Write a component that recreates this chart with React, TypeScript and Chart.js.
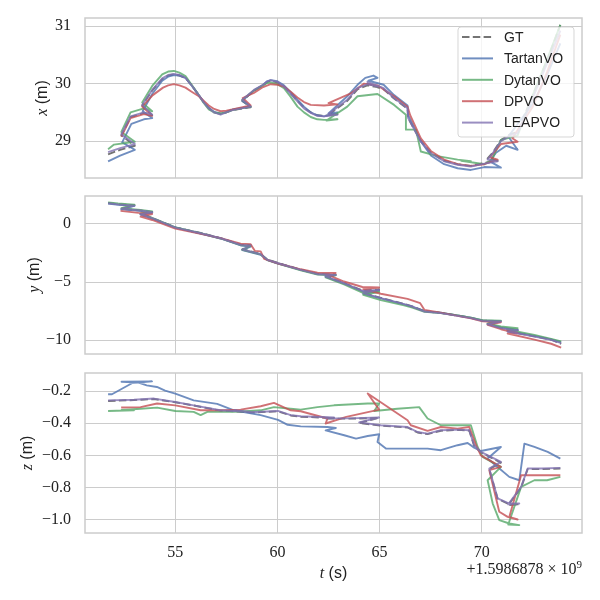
import { useEffect, useRef } from "react";
import { Chart, registerables } from "chart.js";

Chart.register(...registerables);

type Pt = [number, number];

const SERIF = '"Liberation Serif", "DejaVu Serif", serif';
const SANS = '"Liberation Sans", "DejaVu Sans", sans-serif';
const GRID = "#cccccc";
const INK = "#222222";

const seriesNames = ["GT", "TartanVO", "DytanVO", "DPVO", "LEAPVO"];
const seriesColors = [
  "rgba(70,70,70,0.75)",
  "rgba(76,114,176,0.8)",
  "rgba(85,168,104,0.8)",
  "rgba(196,78,82,0.8)",
  "rgba(129,114,178,0.8)",
];

const tTicks = [55, 60, 65, 70];
const T_MIN = 50.58;
const T_MAX = 74.91;
const xTicks = [29, 30, 31];
const yTicks = [-10, -5, 0];
const zTicks = [-1.0, -0.8, -0.6, -0.4, -0.2];

// ---- x (m) ----
const gtX: Pt[] = [[51.71,28.77],[52.3,28.85],[53.02,28.92],[52.36,29.1],[52.81,29.42],[53.46,29.49],[53.87,29.45],[53.38,29.62],[53.87,29.88],[54.36,30.08],[54.65,30.14],[54.93,30.16],[55.2,30.14],[55.5,30.1],[55.8,29.97],[56.15,29.8],[56.4,29.67],[56.64,29.57],[56.9,29.5],[57.22,29.47],[57.5,29.5],[57.79,29.54],[58.69,29.59],[58.28,29.7],[58.85,29.88],[59.3,29.97],[59.5,30.03],[59.67,30.05],[60.0,30.02],[60.32,29.95],[60.65,29.83],[60.98,29.7],[61.3,29.58],[61.63,29.5],[61.95,29.45],[62.28,29.44],[62.94,29.47],[62.5,29.46],[63.42,29.7],[63.92,29.9],[64.4,29.97],[64.9,29.94],[64.4,30.0],[65.2,29.9],[65.71,29.74],[66.37,29.56],[66.4,29.4],[67.02,29.0],[67.51,28.8],[68.16,28.66],[68.82,28.6],[69.47,28.57],[70.13,28.62],[70.78,28.66],[70.29,28.7],[70.54,28.8],[70.94,29.02],[71.4,29.12],[71.76,29.16],[72.5,29.8],[73.2,30.4],[73.85,31.02]];
const tartanX: Pt[] = [[51.71,28.65],[52.3,28.75],[53.02,28.85],[52.4,28.98],[52.85,29.3],[53.46,29.38],[53.87,29.4],[53.4,29.52],[53.87,29.82],[54.36,30.05],[54.65,30.12],[54.93,30.15],[55.2,30.14],[55.5,30.1],[55.8,29.97],[56.15,29.8],[56.4,29.68],[56.64,29.58],[56.9,29.51],[57.22,29.48],[57.5,29.51],[57.79,29.55],[58.69,29.6],[58.28,29.7],[58.85,29.88],[59.3,29.98],[59.5,30.04],[59.67,30.06],[60.0,30.04],[60.32,29.97],[60.65,29.85],[60.98,29.72],[61.3,29.6],[61.63,29.5],[61.95,29.45],[62.28,29.43],[62.94,29.5],[62.5,29.48],[63.42,29.78],[63.92,29.98],[64.3,30.1],[64.7,30.14],[64.9,30.1],[64.45,30.05],[65.2,29.98],[65.71,29.8],[66.37,29.62],[66.4,29.45],[67.02,29.0],[67.51,28.75],[68.16,28.6],[68.82,28.53],[69.47,28.5],[70.13,28.55],[70.94,28.54],[70.4,28.65],[70.7,28.8],[71.2,28.92],[71.76,28.85],[71.3,29.08],[72.5,29.65],[73.2,30.15],[73.85,30.7]];
const dytanX: Pt[] = [[51.71,28.86],[52.0,28.94],[53.02,28.99],[52.36,29.16],[52.81,29.5],[53.46,29.57],[53.87,29.52],[53.38,29.67],[53.87,29.96],[54.36,30.16],[54.65,30.21],[54.93,30.22],[55.2,30.19],[55.5,30.13],[55.8,29.98],[56.15,29.8],[56.4,29.66],[56.64,29.55],[56.9,29.5],[57.22,29.48],[57.5,29.5],[57.79,29.54],[58.69,29.6],[58.28,29.72],[58.85,29.88],[59.3,29.97],[59.5,30.01],[59.67,30.02],[60.0,29.99],[60.32,29.92],[60.65,29.77],[60.98,29.6],[61.3,29.5],[61.63,29.42],[61.95,29.38],[62.28,29.37],[62.94,29.38],[62.4,29.36],[63.42,29.6],[63.92,29.78],[64.9,29.82],[65.71,29.63],[66.29,29.46],[66.29,29.2],[66.78,29.2],[67.02,28.82],[67.84,28.74],[68.82,28.68],[69.47,28.65],[69.0,28.66],[70.13,28.6],[70.5,28.68],[70.94,29.02],[71.76,29.1],[72.5,29.8],[73.2,30.42],[73.85,31.02]];
const dpvoX: Pt[] = [[52.36,29.08],[52.81,29.4],[53.46,29.47],[53.87,29.44],[53.38,29.6],[53.9,29.8],[54.4,29.93],[54.65,29.97],[54.93,29.99],[55.2,29.97],[55.5,29.93],[55.8,29.86],[56.15,29.78],[56.4,29.7],[56.64,29.62],[56.9,29.56],[57.22,29.52],[57.5,29.53],[57.79,29.55],[58.69,29.62],[58.3,29.75],[58.85,29.84],[59.3,29.94],[59.67,29.99],[60.0,29.98],[60.32,29.95],[60.65,29.86],[60.98,29.76],[61.3,29.68],[61.63,29.63],[62.28,29.62],[62.94,29.64],[62.5,29.66],[63.59,29.83],[64.24,30.0],[64.9,29.97],[65.71,29.78],[66.37,29.6],[66.5,29.45],[67.02,29.05],[67.51,28.83],[68.16,28.68],[68.82,28.6],[69.47,28.57],[70.13,28.6],[70.78,28.68],[70.4,28.72],[70.94,28.95],[71.76,28.99],[71.5,29.05],[72.5,29.6],[73.2,30.2],[73.85,30.85]];
const leapX: Pt[] = [[51.71,28.81],[52.3,28.88],[53.02,28.95],[52.36,29.12],[52.81,29.43],[53.46,29.5],[53.87,29.46],[53.38,29.63],[53.87,29.89],[54.36,30.09],[54.65,30.15],[54.93,30.17],[55.2,30.15],[55.5,30.1],[55.8,29.97],[56.15,29.8],[56.4,29.67],[56.64,29.57],[56.9,29.5],[57.22,29.46],[57.5,29.5],[57.79,29.54],[58.69,29.6],[58.28,29.72],[58.85,29.89],[59.3,29.98],[59.5,30.04],[59.67,30.06],[60.0,30.03],[60.32,29.95],[60.65,29.82],[60.98,29.69],[61.3,29.57],[61.63,29.49],[61.95,29.44],[62.28,29.43],[62.94,29.46],[62.5,29.47],[63.42,29.72],[63.92,29.92],[64.4,29.99],[64.9,29.95],[64.4,30.03],[65.2,29.92],[65.71,29.75],[66.37,29.57],[66.4,29.4],[67.02,28.99],[67.51,28.79],[68.16,28.65],[68.82,28.59],[69.47,28.56],[70.13,28.61],[70.78,28.65],[70.29,28.68],[70.54,28.79],[70.94,29.0],[71.4,29.1],[71.76,29.14],[72.5,29.75],[73.2,30.35],[73.85,30.92]];

// ---- y (m) ----
const gtY: Pt[] = [[51.71,1.8],[52.2,1.7],[53.0,1.6],[52.36,1.3],[53.3,1.15],[53.87,1.02],[53.3,0.85],[53.87,0.5],[55.0,-0.3],[56.24,-0.78],[57.22,-1.22],[58.2,-1.78],[58.69,-1.83],[58.28,-2.18],[59.18,-2.58],[59.51,-3.06],[60.03,-3.36],[61.14,-3.93],[61.96,-4.3],[62.85,-4.36],[62.36,-4.5],[63.26,-5.08],[64.16,-5.72],[64.98,-5.64],[64.2,-5.92],[65.06,-6.35],[66.2,-6.88],[66.6,-7.08],[67.2,-7.5],[68.0,-7.65],[68.82,-7.88],[69.47,-8.08],[70.04,-8.31],[70.94,-8.37],[70.29,-8.6],[70.94,-8.94],[71.76,-9.14],[71.27,-9.23],[72.58,-9.66],[73.4,-9.95],[73.89,-10.3]];
const tartanY: Pt[] = [[51.71,1.75],[52.2,1.65],[53.0,1.55],[52.36,1.25],[53.3,1.12],[53.87,0.98],[53.3,0.8],[53.87,0.45],[55.0,-0.3],[56.24,-0.82],[57.22,-1.25],[58.2,-1.85],[58.69,-1.95],[58.28,-2.25],[59.18,-2.65],[59.51,-3.1],[60.03,-3.4],[61.14,-3.95],[61.96,-4.3],[62.85,-4.4],[62.36,-4.55],[63.26,-5.12],[64.16,-5.8],[64.98,-5.72],[64.2,-6.0],[65.06,-6.4],[66.2,-6.92],[66.6,-7.12],[67.2,-7.5],[68.0,-7.64],[68.82,-7.86],[69.47,-8.06],[70.04,-8.3],[70.94,-8.36],[70.29,-8.6],[70.94,-8.9],[71.76,-9.1],[71.27,-9.2],[72.58,-9.62],[73.4,-9.92],[73.89,-10.17]];
const dytanY: Pt[] = [[51.71,1.85],[52.2,1.75],[53.0,1.65],[52.36,1.35],[53.3,1.2],[53.87,1.08],[53.3,0.9],[53.87,0.52],[55.0,-0.3],[56.24,-0.8],[57.22,-1.25],[58.2,-1.82],[58.69,-1.88],[58.28,-2.22],[59.18,-2.62],[59.51,-3.1],[60.03,-3.4],[61.14,-3.98],[61.96,-4.35],[62.85,-4.42],[62.36,-4.6],[63.26,-5.2],[64.16,-5.9],[64.98,-5.85],[64.2,-6.1],[65.06,-6.55],[66.2,-7.0],[66.6,-7.2],[67.2,-7.55],[68.0,-7.66],[68.82,-7.86],[69.47,-8.05],[70.04,-8.28],[70.94,-8.32],[70.29,-8.55],[70.94,-8.82],[71.76,-8.96],[71.27,-9.1],[72.58,-9.55],[73.4,-9.88],[73.89,-10.1]];
const dpvoY: Pt[] = [[52.32,1.12],[53.2,0.95],[53.87,0.85],[53.3,0.62],[53.87,0.34],[55.0,-0.4],[56.24,-0.85],[57.22,-1.22],[58.2,-1.7],[58.69,-1.74],[58.9,-2.32],[59.18,-2.36],[59.35,-3.0],[60.03,-3.4],[61.14,-3.9],[61.96,-4.2],[62.85,-4.22],[62.36,-4.3],[63.26,-4.95],[64.16,-5.42],[64.98,-5.47],[64.2,-5.6],[65.06,-6.0],[66.37,-6.44],[66.99,-6.81],[67.2,-7.39],[68.0,-7.62],[68.82,-7.9],[69.47,-8.12],[70.04,-8.38],[70.94,-8.45],[70.29,-8.68],[70.94,-9.05],[71.76,-9.4],[71.27,-9.42],[72.58,-9.95],[73.4,-10.3],[73.89,-10.63]];
const leapY: Pt[] = [[51.71,1.78],[52.2,1.68],[53.0,1.57],[52.36,1.29],[53.3,1.15],[53.87,1.0],[53.3,0.83],[53.87,0.49],[55.0,-0.32],[56.24,-0.8],[57.22,-1.23],[58.2,-1.8],[58.69,-1.85],[58.28,-2.2],[59.18,-2.6],[59.51,-3.09],[60.03,-3.38],[61.14,-3.95],[61.96,-4.32],[62.85,-4.38],[62.36,-4.52],[63.26,-5.1],[64.16,-5.76],[64.98,-5.67],[64.2,-5.95],[65.06,-6.38],[66.2,-6.9],[66.6,-7.1],[67.2,-7.53],[68.0,-7.67],[68.82,-7.9],[69.47,-8.1],[70.04,-8.33],[70.94,-8.39],[70.29,-8.62],[70.94,-8.96],[71.76,-9.16],[71.27,-9.25],[72.58,-9.68],[73.4,-9.97],[73.89,-10.25]];

// ---- z (m) ----
const gtZ: Pt[] = [[51.71,-0.262],[52.98,-0.256],[53.96,-0.25],[55.0,-0.27],[55.9,-0.29],[57.2,-0.322],[57.87,-0.326],[58.69,-0.333],[57.9,-0.322],[58.69,-0.334],[60.03,-0.326],[60.65,-0.352],[61.14,-0.36],[62.77,-0.368],[62.36,-0.372],[63.5,-0.372],[64.98,-0.368],[64.0,-0.398],[65.06,-0.416],[66.37,-0.427],[66.86,-0.458],[67.35,-0.468],[68.0,-0.447],[68.82,-0.442],[69.39,-0.446],[69.63,-0.54],[69.96,-0.582],[70.94,-0.645],[70.37,-0.686],[70.78,-0.87],[71.35,-0.905],[71.84,-0.905],[71.3,-0.91],[71.93,-0.8],[72.25,-0.686],[72.9,-0.686],[73.85,-0.682]];
const tartanZ: Pt[] = [[51.71,-0.22],[51.9,-0.22],[52.9,-0.15],[53.86,-0.14],[52.37,-0.142],[53.2,-0.148],[53.6,-0.165],[54.1,-0.175],[54.5,-0.198],[55.0,-0.216],[55.9,-0.258],[57.05,-0.28],[57.87,-0.32],[59.18,-0.35],[60.03,-0.38],[60.5,-0.41],[61.14,-0.42],[62.45,-0.424],[62.86,-0.43],[62.36,-0.445],[63.27,-0.475],[63.85,-0.496],[64.42,-0.48],[64.98,-0.469],[64.9,-0.517],[65.31,-0.558],[66.37,-0.558],[67.35,-0.558],[68.0,-0.568],[68.82,-0.537],[69.31,-0.523],[69.63,-0.552],[69.96,-0.573],[70.94,-0.548],[70.29,-0.62],[70.78,-0.672],[71.35,-0.734],[71.84,-0.755],[72.09,-0.527],[72.58,-0.548],[73.23,-0.579],[73.85,-0.62]];
const dytanZ: Pt[] = [[51.71,-0.324],[52.98,-0.32],[52.37,-0.318],[53.3,-0.31],[54.11,-0.303],[55.0,-0.324],[55.9,-0.33],[56.24,-0.35],[56.57,-0.33],[57.87,-0.33],[59.18,-0.32],[59.83,-0.3],[60.65,-0.31],[61.14,-0.316],[61.96,-0.3],[62.77,-0.289],[64.42,-0.278],[64.98,-0.278],[64.74,-0.324],[65.87,-0.31],[66.94,-0.3],[67.35,-0.371],[68.0,-0.413],[68.82,-0.413],[69.47,-0.413],[69.8,-0.548],[70.04,-0.61],[70.94,-0.672],[70.29,-0.755],[70.54,-0.9],[70.86,-1.003],[71.35,-1.024],[71.84,-1.034],[71.3,-1.03],[71.93,-0.796],[72.58,-0.755],[73.2,-0.755],[73.85,-0.734]];
const dpvoZ: Pt[] = [[52.35,-0.303],[53.3,-0.3],[54.11,-0.278],[55.0,-0.289],[56.24,-0.32],[57.22,-0.32],[58.2,-0.316],[59.18,-0.295],[59.83,-0.274],[60.65,-0.32],[61.14,-0.326],[62.45,-0.371],[62.36,-0.402],[63.37,-0.361],[64.98,-0.316],[64.42,-0.215],[66.37,-0.382],[66.53,-0.413],[67.35,-0.448],[68.0,-0.424],[68.82,-0.434],[69.39,-0.424],[69.72,-0.537],[69.96,-0.6],[70.94,-0.672],[70.37,-0.692],[70.86,-0.951],[71.27,-0.983],[71.76,-0.999],[71.35,-0.983],[71.93,-0.724],[72.58,-0.724],[73.85,-0.724]];
const leapZ: Pt[] = [[51.71,-0.258],[52.98,-0.254],[53.96,-0.247],[55.0,-0.268],[55.9,-0.289],[57.2,-0.32],[57.87,-0.324],[58.69,-0.33],[57.9,-0.32],[58.69,-0.332],[60.03,-0.324],[60.65,-0.35],[61.14,-0.357],[62.77,-0.365],[62.36,-0.37],[63.5,-0.37],[64.98,-0.365],[64.0,-0.395],[65.06,-0.413],[66.37,-0.424],[66.86,-0.455],[67.35,-0.465],[68.0,-0.444],[68.82,-0.44],[69.39,-0.444],[69.63,-0.537],[69.96,-0.579],[70.94,-0.641],[70.37,-0.682],[70.78,-0.868],[71.35,-0.9],[71.84,-0.9],[71.3,-0.905],[71.93,-0.796],[72.25,-0.682],[72.9,-0.682],[73.85,-0.678]];

type Part = { text: string; font: string; dy?: number };

function drawParts(ctx: CanvasRenderingContext2D, parts: Part[], cx: number, cy: number, rot: number, align: "center" | "right") {
  ctx.save();
  ctx.translate(cx, cy);
  ctx.rotate(rot);
  ctx.fillStyle = INK;
  ctx.textBaseline = "alphabetic";
  ctx.textAlign = "left";
  const widths = parts.map(p => { ctx.font = p.font; return ctx.measureText(p.text).width; });
  const total = widths.reduce((a, b) => a + b, 0);
  let x = align === "center" ? -total / 2 : -total;
  parts.forEach((p, i) => {
    ctx.font = p.font;
    ctx.fillText(p.text, x, 5.5 + (p.dy || 0));
    x += widths[i];
  });
  ctx.restore();
}

function fmt(v: number, dec: number) {
  return v.toFixed(dec).replace("-", "\u2212");
}

interface PanelProps {
  top: number;
  height: number;
  padTop: number;
  axisH: number;
  yMin: number;
  yMax: number;
  ticks: number[];
  dec: number;
  series: Pt[][];
  letter: string;
  labelX: number;
  bottom?: boolean;
  legend?: boolean;
}

function Panel(props: PanelProps) {
  const chartRef = useRef<HTMLCanvasElement>(null);
  const chartInstanceRef = useRef<Chart | null>(null);

  useEffect(() => {
    if (!chartRef.current) return;
    if (chartInstanceRef.current) chartInstanceRef.current.destroy();
    const ctx = chartRef.current.getContext("2d");
    if (!ctx) return;

    const decorations = {
      id: "decorations",
      afterDatasetsDraw(chart: Chart) {
        const c = chart.ctx;
        const a = chart.chartArea;
        c.save();
        c.strokeStyle = GRID;
        c.lineWidth = 1.5;
        c.strokeRect(a.left, a.top, a.right - a.left, a.bottom - a.top);
        c.restore();
      },
      afterDraw(chart: Chart) {
        const c = chart.ctx;
        const a = chart.chartArea;
        drawParts(c, [
          { text: props.letter, font: `italic 16px ${SERIF}` },
          { text: " (m)", font: `16px ${SANS}` },
        ], props.labelX, (a.top + a.bottom) / 2, -Math.PI / 2, "center");

        if (props.bottom) {
          drawParts(c, [
            { text: "t", font: `italic 16px ${SERIF}` },
            { text: " (s)", font: `16px ${SANS}` },
          ], (a.left + a.right) / 2, 572 - props.top, 0, "center");
          drawParts(c, [
            { text: "+1.5986878 \u00d7 10", font: `16px ${SERIF}` },
            { text: "9", font: `11px ${SERIF}`, dy: -6 },
          ], 582, 568 - props.top, 0, "right");
        }

        if (props.legend) {
          const x0 = 458, y0 = 27, w = 116, h = 110;
          c.save();
          c.beginPath();
          c.roundRect(x0, y0, w, h, 3);
          c.fillStyle = "rgba(255,255,255,0.8)";
          c.fill();
          c.strokeStyle = "rgba(204,204,204,0.8)";
          c.lineWidth = 1;
          c.stroke();
          c.font = `14px ${SANS}`;
          c.textBaseline = "middle";
          seriesNames.forEach((name, i) => {
            const yy = 37 + i * 21.4;
            c.beginPath();
            c.strokeStyle = seriesColors[i];
            c.lineWidth = 2;
            c.setLineDash(i === 0 ? [7.5, 3.3] : []);
            c.moveTo(462, yy);
            c.lineTo(493, yy);
            c.stroke();
            c.setLineDash([]);
            c.fillStyle = INK;
            c.fillText(name, 504, yy + 1);
          });
          c.restore();
        }
      },
    };

    chartInstanceRef.current = new Chart(ctx, {
      type: "line",
      data: {
        datasets: props.series.map((pts, i) => ({
          label: seriesNames[i],
          data: pts.map(([x, y]) => ({ x, y })),
          borderColor: seriesColors[i],
          borderWidth: 1.9,
          borderDash: i === 0 ? [7.5, 3.3] : [],
          borderJoinStyle: "round",
          pointRadius: 0,
          tension: 0,
          fill: false,
          order: 4 - i,
        })),
      },
      options: {
        animation: false,
        responsive: false,
        events: [],
        layout: { padding: { top: props.padTop, right: 18, left: 0, bottom: 0 } },
        plugins: { legend: { display: false }, tooltip: { enabled: false } },
        scales: {
          x: {
            type: "linear",
            min: T_MIN,
            max: T_MAX,
            afterBuildTicks: (s: any) => { s.ticks = tTicks.map(v => ({ value: v })); },
            afterFit: (s: any) => { s.height = props.axisH; s.paddingLeft = 0; s.paddingRight = 0; },
            grid: { color: GRID, lineWidth: 1, drawTicks: false },
            border: { display: false },
            ticks: {
              display: !!props.bottom,
              padding: 10,
              color: INK,
              autoSkip: false,
              maxRotation: 0,
              font: { family: SERIF, size: 16 },
              callback: (v: any) => String(v),
            },
          },
          y: {
            type: "linear",
            min: props.yMin,
            max: props.yMax,
            afterBuildTicks: (s: any) => { s.ticks = props.ticks.map(v => ({ value: v })); },
            afterFit: (s: any) => { s.width = 85; s.paddingTop = 0; s.paddingBottom = 0; },
            grid: { color: GRID, lineWidth: 1, drawTicks: false },
            border: { display: false },
            ticks: {
              padding: 14,
              color: INK,
              autoSkip: false,
              font: { family: SERIF, size: 16 },
              callback: (v: any) => fmt(Number(v), props.dec),
            },
          },
        },
      },
      plugins: [decorations],
    } as any);

    return () => {
      if (chartInstanceRef.current) {
        chartInstanceRef.current.destroy();
        chartInstanceRef.current = null;
      }
    };
  }, []);

  return (
    <div style={{ position: "absolute", left: 0, top: props.top, width: 600, height: props.height }}>
      <canvas ref={chartRef} width={600} height={props.height} style={{ width: 600, height: props.height }} />
    </div>
  );
}

export default function App() {
  return (
    <div style={{ position: "fixed", left: 0, top: 0, width: 600, height: 600, background: "#fff" }}>
      <Panel top={0} height={190} padTop={18} axisH={12} yMin={28.36} yMax={31.14} ticks={xTicks} dec={0}
        series={[gtX, tartanX, dytanX, dpvoX, leapX]} letter="x" labelX={41.5} legend />
      <Panel top={190} height={175} padTop={6} axisH={11} yMin={-11.18} yMax={2.4} ticks={yTicks} dec={0}
        series={[gtY, tartanY, dytanY, dpvoY, leapY]} letter="y" labelX={33} />
      <Panel top={365} height={235} padTop={8} axisH={67} yMin={-1.083} yMax={-0.088} ticks={zTicks} dec={1}
        series={[gtZ, tartanZ, dytanZ, dpvoZ, leapZ]} letter="z" labelX={26} bottom />
    </div>
  );
}
